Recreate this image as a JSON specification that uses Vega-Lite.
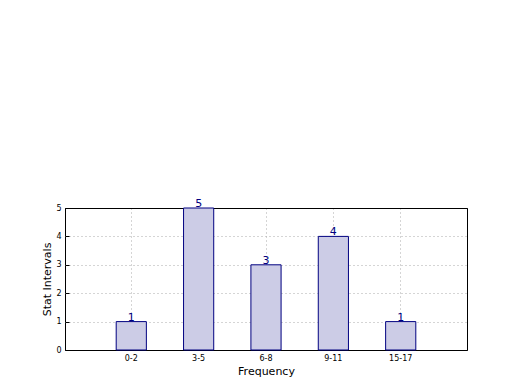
{
  "$schema": "https://vega.github.io/schema/vega-lite/v6.json",
  "width": 402,
  "height": 142,
  "autosize": {"type": "none"},
  "padding": {"left": 65, "top": 208, "right": 53, "bottom": 40},
  "background": "white",
  "config": {
    "font": "DejaVu Sans",
    "view": {"stroke": "black", "strokeWidth": 1},
    "axis": {
      "zindex": 1,
      "domain": false,
      "grid": true,
      "gridColor": "#aaaaaa",
      "gridDash": [1, 3],
      "gridWidth": 1,
      "tickColor": "black",
      "tickSize": -4,
      "labelFont": "DejaVu Sans",
      "labelFontSize": 8,
      "labelColor": "black",
      "titleFont": "DejaVu Sans",
      "titleFontSize": 11,
      "titleFontWeight": "normal",
      "titleColor": "black"
    }
  },
  "data": {
    "values": [
      {"interval": "0-2", "count": 1},
      {"interval": "3-5", "count": 5},
      {"interval": "6-8", "count": 3},
      {"interval": "9-11", "count": 4},
      {"interval": "15-17", "count": 1}
    ]
  },
  "encoding": {
    "x": {
      "field": "interval",
      "type": "nominal",
      "sort": null,
      "scale": {"paddingInner": 0.552, "paddingOuter": 0.76},
      "axis": {"title": "Frequency", "labelAngle": 0, "bandPosition": 0.5, "labelPadding": 8, "titlePadding": 3}
    },
    "y": {
      "field": "count",
      "type": "quantitative",
      "scale": {"domain": [0, 5], "nice": false},
      "axis": {
        "title": "Stat Intervals",
        "values": [0, 1, 2, 3, 4, 5],
        "labelPadding": 8,
        "titlePadding": 3,
        "gridColor": {"condition": {"test": "datum.value >= 5 || datum.value <= 0", "value": "black"}, "value": "#aaaaaa"},
        "gridDash": {"condition": {"test": "datum.value >= 5 || datum.value <= 0", "value": []}, "value": [1, 3]}
      }
    }
  },
  "layer": [
    {
      "mark": {"type": "bar", "fill": "#cccce6", "stroke": "#000080", "strokeWidth": 1}
    },
    {
      "mark": {"type": "text", "baseline": "bottom", "color": "#000080", "fontSize": 11, "font": "DejaVu Sans", "dy": 1},
      "encoding": {"text": {"field": "count", "type": "quantitative"}}
    }
  ]
}
